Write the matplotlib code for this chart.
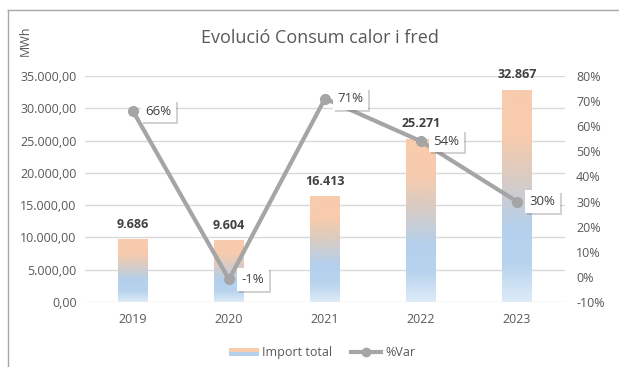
import numpy as np
import matplotlib.pyplot as plt
import matplotlib.patheffects as pe
from matplotlib.colors import LinearSegmentedColormap
from matplotlib.patches import Rectangle
from matplotlib.lines import Line2D
from matplotlib.legend_handler import HandlerBase

plt.rcParams['font.family'] = ['Open Sans', 'DejaVu Sans']

years = ['2019', '2020', '2021', '2022', '2023']
consum = [9686, 9604, 16413, 25271, 32867]
var_pct = [0.66, -0.01, 0.71, 0.54, 0.30]

txt = '#595959'
grid_c = '#D9D9D9'
line_c = '#A5A5A5'

# gradient per bar, bottom -> top
grad = LinearSegmentedColormap.from_list('grad', [
    (0.0, '#DEEBF7'), (0.18, '#B7D3EE'), (0.35, '#B4D0EC'),
    (0.6, '#DCCBC0'), (0.78, '#F8CBAD'), (1.0, '#F8CBAD')])


def fmt_num(v, dec=0):
    s = f'{v:,.{dec}f}'
    return s.replace(',', 'X').replace('.', ',').replace('X', '.')


fig = plt.figure(figsize=(6.19, 3.67), dpi=100)
ax = fig.add_axes([0.1373, 0.177, 0.7755, 0.616])
ax2 = ax.twinx()

x = np.arange(len(years))
bw = 0.31
ax.set_yticks(np.arange(0, 35001, 5000))
ax.set_yticklabels([fmt_num(v, 2) for v in np.arange(0, 35001, 5000)])
ax.yaxis.grid(True, color=grid_c, lw=1)
ax.set_axisbelow(True)
ax.set_xticks(x)
ax.set_xticklabels(years)

gimg = np.linspace(0, 1, 256).reshape(-1, 1)
for xi, v in zip(x, consum):
    rect = Rectangle((xi - bw / 2, 0), bw, v, facecolor='none', edgecolor='none')
    ax.add_patch(rect)
    im = ax.imshow(gimg, cmap=grad, origin='lower', aspect='auto',
                   extent=[xi - bw / 2, xi + bw / 2, 0, v], zorder=2)
    im.set_clip_path(rect)
    ax.text(xi, v + 1300, fmt_num(v), ha='center', va='bottom',
            fontsize=9, fontweight='bold', color='#404040')
ax.set_xlim(-0.5, len(years) - 0.5)
ax.set_ylim(0, 35000)

ax2.set_ylim(-0.1, 0.8)
ax2.set_yticks(np.arange(-0.1, 0.81, 0.1))
ax2.set_yticklabels([f'{round(t * 100)}%' for t in np.arange(-0.1, 0.81, 0.1)])
ax2.plot(x, var_pct, color=line_c, lw=3, marker='o', ms=7, zorder=3)
for xi, p in zip(x, var_pct):
    t = ax2.annotate(f'{round(p * 100)}%', (xi, p), xytext=(9, 0),
                     textcoords='offset points', ha='left', va='center',
                     fontsize=9.5, color='#404040', zorder=5,
                     bbox=dict(boxstyle='square,pad=0.35', fc='white', ec='none'))
    t.get_bbox_patch().set_path_effects([
        pe.SimplePatchShadow(offset=(1.5, -1.5), shadow_rgbFace='#7F7F7F', alpha=0.35),
        pe.Normal()])

for a in (ax, ax2):
    for s in a.spines.values():
        s.set_visible(False)
    a.tick_params(length=0, colors=txt, labelsize=9)
ax.tick_params(axis='x', pad=8)
ax.tick_params(axis='y', pad=6)
ax2.tick_params(axis='y', pad=8)

fig.text(0.517, 0.896, 'Evolució Consum calor i fred', ha='center', va='center',
         fontsize=13, color=txt)
fig.text(0.04, 0.89, 'MWh', rotation=90, ha='center', va='center',
         fontsize=9, color=txt)

# chart frame, top and left edge
fig.add_artist(Line2D([8 / 619, 1], [1 - 10 / 367, 1 - 10 / 367], color='#A6A6A6', lw=1))
fig.add_artist(Line2D([8 / 619, 8 / 619], [0, 1 - 10 / 367], color='#A6A6A6', lw=1))


class GradPatchHandler(HandlerBase):
    def create_artists(self, legend, orig, xd, yd, w, h, fs, trans):
        top = Rectangle((xd, yd + h / 2), w, h / 2, fc='#F8CBAD', ec='none', transform=trans)
        bot = Rectangle((xd, yd), w, h / 2, fc='#B4D0EC', ec='none', transform=trans)
        return [top, bot]


bar_handle = Rectangle((0, 0), 1, 1)
line_handle = Line2D([], [], color=line_c, lw=3, marker='o', ms=6)
fig.legend([bar_handle, line_handle], ['Import total', '%Var'],
           handler_map={Rectangle: GradPatchHandler()},
           loc='center', bbox_to_anchor=(0.52, 0.04), ncol=2, frameon=False,
           fontsize=9, labelcolor=txt, handlelength=2.4, handleheight=0.6,
           columnspacing=1.5, handletextpad=0.3)

fig.savefig('out.png', dpi=100)
